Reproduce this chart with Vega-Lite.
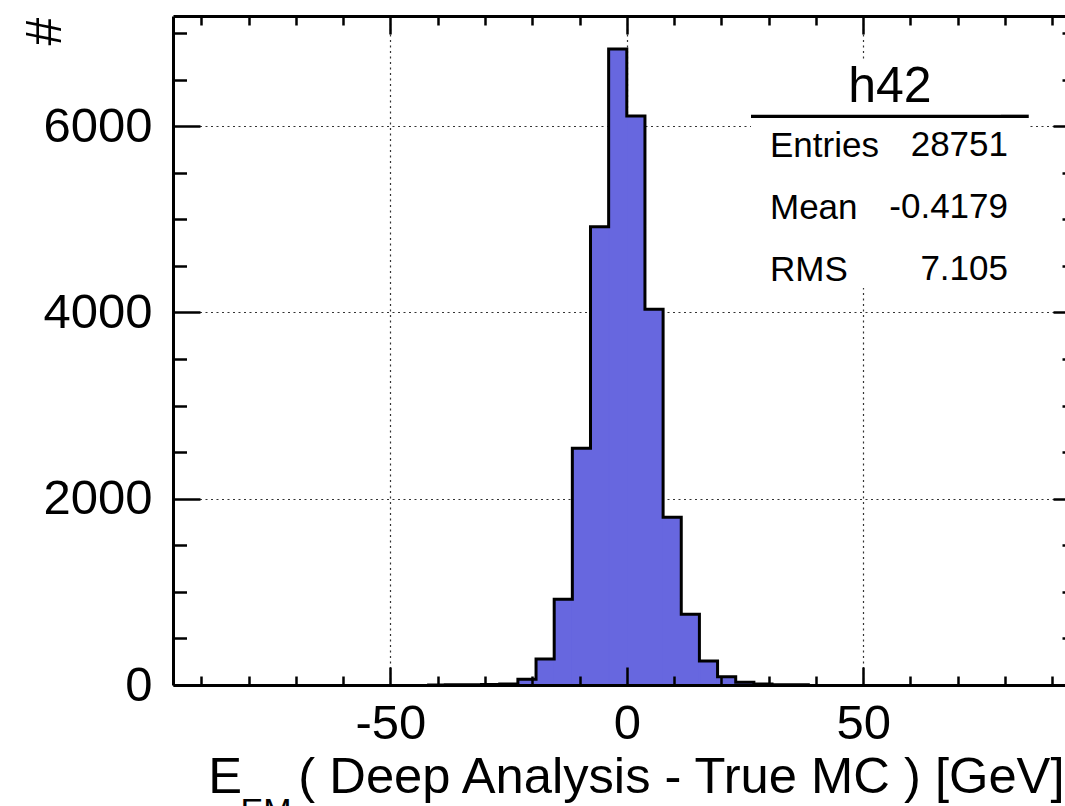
{
  "$schema": "https://vega.github.io/schema/vega-lite/v6.json",
  "width": 892,
  "height": 669,
  "autosize": "none",
  "padding": {"left": 173, "top": 16, "right": 0, "bottom": 121},
  "background": "white",
  "config": {
    "font": "Liberation Sans",
    "view": {"stroke": null},
    "axis": {"domainColor": "black", "tickColor": "black", "labelColor": "black", "titleColor": "black", "titleFontWeight": "normal", "labelOverlap": false, "labelFlush": false}
  },
  "datasets": {
    "bins": [
      {"lo": -42.24, "hi": -38.4, "n": 1},
      {"lo": -38.4, "hi": -34.56, "n": 2},
      {"lo": -34.56, "hi": -30.72, "n": 3},
      {"lo": -30.72, "hi": -26.88, "n": 5},
      {"lo": -26.88, "hi": -23.04, "n": 12},
      {"lo": -23.04, "hi": -19.2, "n": 61},
      {"lo": -19.2, "hi": -15.36, "n": 279},
      {"lo": -15.36, "hi": -11.52, "n": 920},
      {"lo": -11.52, "hi": -7.68, "n": 2541},
      {"lo": -7.68, "hi": -3.84, "n": 4920},
      {"lo": -3.84, "hi": 0, "n": 6828},
      {"lo": 0, "hi": 3.84, "n": 6108},
      {"lo": 3.84, "hi": 7.68, "n": 4033},
      {"lo": 7.68, "hi": 11.52, "n": 1800},
      {"lo": 11.52, "hi": 15.36, "n": 759},
      {"lo": 15.36, "hi": 19.2, "n": 258},
      {"lo": 19.2, "hi": 23.04, "n": 89},
      {"lo": 23.04, "hi": 26.88, "n": 29},
      {"lo": 26.88, "hi": 30.72, "n": 10},
      {"lo": 30.72, "hi": 34.56, "n": 4},
      {"lo": 34.56, "hi": 38.4, "n": 2},
      {"lo": 38.4, "hi": 42.24, "n": 0}
    ],
    "stats": [
      {"name": "Entries", "value": "28751"},
      {"name": "Mean", "value": "-0.4179"},
      {"name": "RMS", "value": "7.105"}
    ]
  },
  "resolve": {"axis": {"x": "independent", "y": "independent"}},
  "layer": [
    {
      "data": {"name": "bins"},
      "mark": {"type": "rect", "color": "#6767DF", "stroke": "#6767DF", "strokeWidth": 1.2, "opacity": 1},
      "encoding": {
        "x": {
          "field": "lo", "type": "quantitative",
          "scale": {"domain": [-96, 92.7], "nice": false, "zero": false},
          "axis": {
            "orient": "bottom",
            "values": [-90, -80, -70, -60, -50, -40, -30, -20, -10, 0, 10, 20, 30, 40, 50, 60, 70, 80, 90],
            "zindex": 1, "grid": false, "domainWidth": 3, "tickWidth": 2.5,
            "tickSize": {"condition": {"test": "datum.value % 50 === 0", "value": -18}, "value": -9},
            "labelExpr": "datum.value % 50 === 0 ? toString(datum.value) : ''",
            "labelFontSize": 49, "labelPadding": 32, "labelBaseline": "top",
            "title": "E\u00a0\u00a0\u00a0\u00a0( Deep Analysis - True MC ) [GeV]",
            "titleFontSize": 50.7, "titleAlign": "right", "titleBaseline": "alphabetic",
            "titleX": 891, "titleY": 107
          }
        },
        "x2": {"field": "hi"},
        "y": {
          "field": "n", "type": "quantitative",
          "scale": {"domain": [0, 7182], "nice": false},
          "axis": {
            "orient": "left",
            "values": [0, 500, 1000, 1500, 2000, 2500, 3000, 3500, 4000, 4500, 5000, 5500, 6000, 6500, 7000],
            "zindex": 1, "grid": false, "domainWidth": 3, "tickWidth": 2.5,
            "tickSize": {"condition": {"test": "datum.value % 2000 === 0", "value": -27}, "value": -13.5},
            "labelExpr": "datum.value % 2000 === 0 ? toString(datum.value) : ''",
            "labelFontSize": 49, "labelPadding": 48,
            "title": "#", "titleFontSize": 50, "titleAngle": -90,
            "titleX": -128, "titleY": 15, "titleAlign": "center", "titleBaseline": "middle"
          }
        },
        "y2": {"datum": 0}
      }
    },
    {
      "data": {"name": "bins"},
      "mark": {"type": "line", "interpolate": "step-after", "color": "black", "strokeWidth": 3},
      "encoding": {
        "x": {
          "field": "lo", "type": "quantitative",
          "scale": {"domain": [-96, 92.7], "nice": false, "zero": false},
          "axis": {
            "orient": "top",
            "values": [-90, -80, -70, -60, -50, -40, -30, -20, -10, 0, 10, 20, 30, 40, 50, 60, 70, 80, 90],
            "zindex": 0, "grid": true,
            "gridOpacity": {"condition": {"test": "datum.value % 50 === 0", "value": 1}, "value": 0},
            "gridDash": [2, 3.5], "gridColor": "#333333", "gridWidth": 1.2,
            "domainWidth": 3, "tickWidth": 2.5,
            "tickSize": {"condition": {"test": "datum.value % 50 === 0", "value": -18}, "value": -9},
            "labels": false,
            "title": "EM", "titleFontSize": 34, "titleX": 67, "titleY": 805,
            "titleAlign": "left", "titleBaseline": "alphabetic"
          }
        },
        "y": {
          "field": "n", "type": "quantitative",
          "scale": {"domain": [0, 7182], "nice": false},
          "axis": {
            "orient": "right",
            "values": [0, 500, 1000, 1500, 2000, 2500, 3000, 3500, 4000, 4500, 5000, 5500, 6000, 6500, 7000],
            "zindex": 0, "grid": true,
            "gridOpacity": {"condition": {"test": "datum.value % 2000 === 0", "value": 1}, "value": 0},
            "gridDash": [2, 3.5], "gridColor": "#333333", "gridWidth": 1.2,
            "domain": false, "tickWidth": 2.5,
            "tickSize": {"condition": {"test": "datum.value % 2000 === 0", "value": -12}, "value": -3},
            "labels": false, "title": null
          }
        }
      }
    },
    {
      "data": {"name": "stats"},
      "mark": {"type": "point", "opacity": 0},
      "encoding": {
        "color": {
          "field": "name", "type": "nominal", "sort": null,
          "scale": {"range": ["black"]},
          "legend": {
            "orient": "none", "legendX": 578, "legendY": 46,
            "title": ["\u200b\u00a0\u00a0\u00a0\u00a0\u00a0\u00a0\u00a0h42", "—————–"],
            "titleFontSize": 50, "titleFontWeight": "normal", "titleColor": "black",
            "titleAlign": "left", "titleAnchor": "start", "titleLineHeight": 27,
            "titlePadding": -11, "titleLimit": 1000,
            "fillColor": "white", "padding": 0,
            "labelFontSize": 35, "labelColor": "black", "labelOffset": -16, "labelLimit": 1000,
            "rowPadding": 26, "symbolSize": 0, "symbolOpacity": 0, "symbolStrokeWidth": 0
          }
        },
        "shape": {
          "field": "value", "type": "nominal", "sort": null,
          "legend": {
            "orient": "none", "legendX": 800, "legendY": 111,
            "title": null,
            "labelAlign": "right", "labelFontSize": 35, "labelColor": "black",
            "labelOffset": 0, "labelLimit": 1000, "padding": 0,
            "rowPadding": 26, "symbolSize": 0, "symbolOpacity": 0, "symbolStrokeWidth": 0
          }
        }
      }
    }
  ]
}
